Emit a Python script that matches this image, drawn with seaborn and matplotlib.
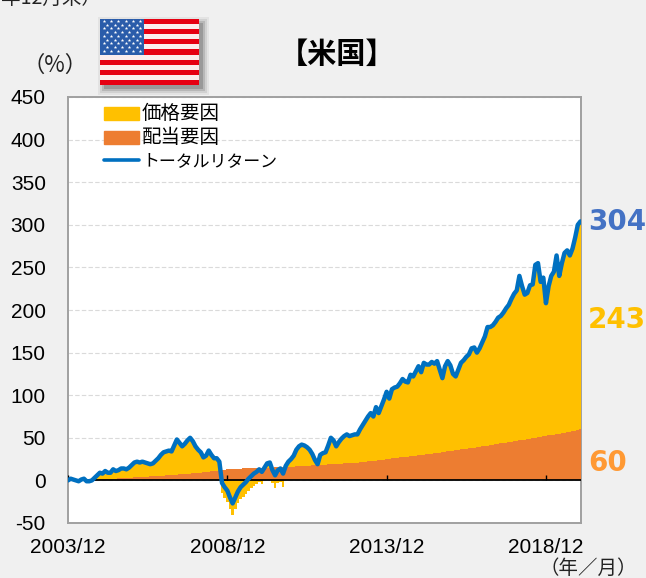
import numpy as np
import pandas as pd
import seaborn as sns
import matplotlib.pyplot as plt
from matplotlib.patches import Patch, Rectangle
from matplotlib.lines import Line2D

# total return (%), monthly from 2003/12
total = [0, 2, 1, 0, -1, 1, 2, -1, -1, 0, 3, 6, 9,
         8, 11, 9, 9, 13, 11, 12, 14, 14, 13, 15, 18,
         21, 22, 21, 22, 21, 20, 19, 20, 23, 26, 30, 33,
         34, 35, 34, 41, 48, 44, 40, 43, 47, 50, 46, 40,
         36, 33, 27, 29, 35, 30, 26, 26, 22, -3, -8, -12,
         -20, -27, -20, -13, -8, -5, -2, 2, 5, 8, 10, 13,
         10, 15, 20, 21, 12, 6, 12, 14, 8, 17, 22, 25,
         29, 36, 40, 42, 41, 39, 36, 31, 24, 19, 30, 32,
         33, 41, 50, 47, 40, 45, 49, 52, 54, 52, 53, 54,
         54, 60, 65, 70, 75, 79, 75, 86, 79, 87, 95, 104,
         96, 107, 109, 110, 114, 119, 116, 115, 124, 122, 128, 134,
         127, 138, 136, 136, 139, 137, 140, 130, 120, 134, 140, 135,
         125, 122, 130, 138, 141, 145, 148, 155, 156, 150, 155, 162,
         169, 180, 180, 182, 186, 191, 193, 197, 202, 206, 213, 219,
         223, 240, 228, 218, 220, 229, 230, 253, 255, 233, 238, 208,
         228, 240, 245, 264, 240, 255, 267, 270, 264, 272, 285, 300, 304]

dividend = [0, 0, 0, 0.1, 0.2, 0.3, 0.4, 0.5, 0.6, 0.7, 0.9, 1.0, 1.2,
            1.4, 1.5, 1.7, 1.9, 2.1, 2.2, 2.4, 2.6, 2.8, 3.0, 3.1, 3.3,
            3.5, 3.7, 3.9, 4.1, 4.3, 4.5, 4.7, 4.9, 5.1, 5.3, 5.5, 5.7,
            5.9, 6.1, 6.3, 6.5, 6.8, 7.0, 7.2, 7.5, 7.7, 7.9, 8.2, 8.5,
            8.8, 9.2, 9.5, 9.9, 10.3, 10.7, 11.0, 11.4, 11.8, 12.2, 12.6, 13.0,
            13.3, 13.5, 13.7, 13.8, 13.9, 14.0, 14.1, 14.1, 14.2, 14.3, 14.4, 14.5,
            14.6, 14.7, 14.9, 15.0, 15.1, 15.3, 15.4, 15.5, 15.7, 15.8, 16.0, 16.1,
            16.3, 16.5, 16.7, 16.8, 17.0, 17.2, 17.4, 17.6, 17.8, 18.0, 18.2, 18.4,
            18.6, 18.8, 19.0, 19.2, 19.4, 19.6, 19.8, 20.0, 20.2, 20.4, 20.6, 20.8,
            21.0, 21.3, 21.6, 21.9, 22.2, 22.5, 22.8, 23.1, 23.4, 23.8, 24.2, 24.8,
            25.5, 26.0, 26.3, 26.6, 27.0, 27.3, 27.6, 28.0, 28.3, 28.7, 29.0, 29.4,
            29.8, 30.2, 30.6, 31.0, 31.3, 31.7, 32.1, 32.5, 33.0, 33.4, 34.0, 34.5,
            35.0, 35.4, 35.9, 36.3, 36.8, 37.2, 37.7, 38.1, 38.6, 39.0, 39.5, 39.9,
            40.4, 40.9, 41.4, 41.9, 42.4, 42.9, 43.4, 43.9, 44.4, 44.9, 45.4, 45.9,
            46.4, 46.9, 47.4, 47.9, 48.4, 48.9, 49.5, 50.0, 50.5, 51.0, 51.6, 52.1,
            52.7, 53.2, 53.8, 54.3, 54.9, 55.4, 56.0, 56.5, 57.1, 57.7, 58.4, 59.2, 60.0]

x_ticks = [0, 60, 120, 180]
x_labels = ['2003/12', '2008/12', '2013/12', '2018/12']
y_ticks = [-50, 0, 50, 100, 150, 200, 250, 300, 350, 400, 450]
labels = ['価格要因', '配当要因', 'トータルリターン']
end_labels = ['304', '243', '60']

W, H = 646, 578
BG = '#F0F0F0'
YELLOW = '#FFC000'
ORANGE = '#ED7D31'
BLUE = '#0070C0'

sns.set_theme(style='white')
plt.rcParams['font.family'] = ['Liberation Sans', 'Noto Sans CJK JP', 'DejaVu Sans']
JP = ['Noto Sans CJK JP', 'DejaVu Sans']

df = pd.DataFrame({'month': np.arange(len(total)), 'total': total, 'dividend': dividend})
df['price'] = df['total'] - df['dividend']

fig = plt.figure(figsize=(W / 100, H / 100), dpi=100, facecolor=BG)


def fx(px):
    return px / W


def fy(px):
    return 1 - px / H


ax = fig.add_axes([fx(68), fy(523), fx(581 - 68), (523 - 97) / H], facecolor='white')

# stacked bars, negative price part hangs below zero
ax.bar(df['month'], df['dividend'], width=1.0, color=ORANGE, lw=0, zorder=2)
price_bottom = np.where(df['price'] > 0, df['dividend'], 0)
ax.bar(df['month'], df['price'], bottom=price_bottom, width=1.0, color=YELLOW, lw=0, zorder=2)

ax.axhline(0, color='black', lw=1.3, zorder=3)
ax.vlines(x_ticks, 0, 6.5, color='black', lw=1.0, zorder=3)
sns.lineplot(data=df, x='month', y='total', ax=ax, color=BLUE, lw=3.2, zorder=4,
             errorbar=None, solid_capstyle='round')

ax.set_xlim(0, 193.2)
ax.set_ylim(-50, 450)
ax.set_xticks(x_ticks, x_labels)
ax.set_yticks(y_ticks, [str(v) for v in y_ticks])
ax.tick_params(axis='both', length=0, labelsize=15, colors='black')
ax.tick_params(axis='x', pad=11)
ax.tick_params(axis='y', pad=16)
ax.set_xlabel('')
ax.set_ylabel('')
ax.yaxis.grid(True, color='#DADADA', ls=(0, (4, 2)), lw=0.8, zorder=0)
ax.set_axisbelow(True)
for s in ax.spines.values():
    s.set_color('#A0A0A0')
    s.set_linewidth(1.4)
    s.set_zorder(1)

handles = [Patch(color=YELLOW), Patch(color=ORANGE), Line2D([0], [0], color=BLUE, lw=2.6)]
leg = ax.legend(handles, labels, loc='upper left', bbox_to_anchor=(0.060, 0.998), frameon=False,
                prop={'family': JP, 'size': 12.2}, handlelength=2.1, handleheight=0.8,
                handletextpad=0.15, labelspacing=0.2, borderpad=0.3, borderaxespad=0)
for t in leg.get_texts()[:2]:
    t.set_fontsize(14)
for t in leg.get_texts():
    t.set_color('black')

fig.text(fx(337), fy(54), '【米国】', family=JP, fontsize=21, fontweight='bold',
         ha='center', va='center', color='black')
fig.text(fx(55), fy(65), '（%）', family=JP, fontsize=16, ha='center', va='center', color='#222222')
fig.text(fx(588), fy(568), '（年／月）', family=JP, fontsize=14, ha='center', va='center', color='#222222')
fig.text(fx(101), fy(-2), '（2003年12月末～2019年12月末）', family=JP, fontsize=14, ha='right',
         va='center', color='#222222')

for txt, c, ypx in zip(end_labels, ['#4472C4', YELLOW, '#FF9933'], [222, 320, 463]):
    fig.text(fx(588), fy(ypx), txt, family='DejaVu Sans', fontsize=20, fontweight='bold',
             color=c, ha='left', va='center')

# flag with soft shadow
for grow, a in zip([6, 4, 2, 0], [0.05, 0.08, 0.12, 0.16]):
    fig.add_artist(Rectangle((fx(100 + 4 - grow), fy(85 + 4 + grow)),
                             (99 + 2 * grow) / W, (66 + 2 * grow) / H,
                             transform=fig.transFigure, color='black', alpha=a, lw=0, zorder=-1))
flag = fig.add_axes([fx(100), fy(85), 99 / W, 66 / H])
flag.set_xlim(0, 1)
flag.set_ylim(0, 13)
flag.axis('off')
for i in range(13):
    flag.add_patch(Rectangle((0, i), 1, 1, color='#E60012' if i % 2 == 0 else '#FBEDED', lw=0))
flag.add_patch(Rectangle((0, 6), 0.444, 7, color='#2A5CAA', lw=0, zorder=2))
star_x, star_y = [], []
for r in range(9):
    n = 6 if r % 2 == 0 else 5
    off = 0.037 if r % 2 == 0 else 0.074
    for c in range(n):
        star_x.append(off + c * 0.074)
        star_y.append(12.65 - r * 0.74)
flag.scatter(star_x, star_y, marker='*', s=7, color='white', lw=0, zorder=3)

fig.savefig('out.png', dpi=100, facecolor=BG)
